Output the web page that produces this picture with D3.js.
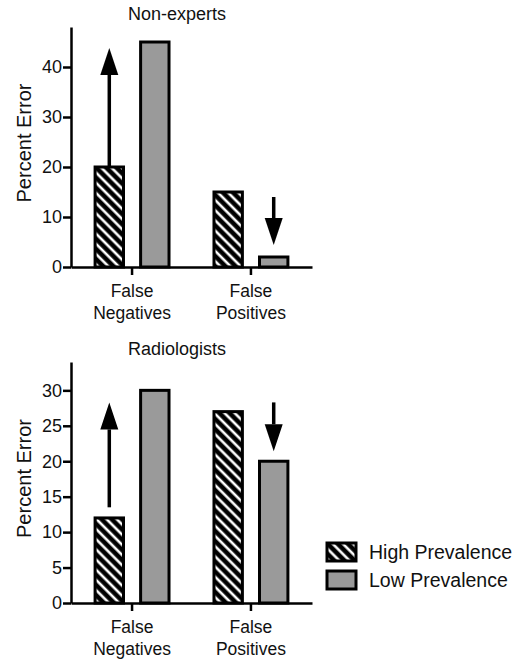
<!DOCTYPE html>
<html>
<head>
<meta charset="utf-8">
<script src="https://cdn.jsdelivr.net/npm/d3@7"></script>
<style>
  body { margin: 0; background: #fff; }
  svg { display: block; font-family: "Liberation Sans", Arial, sans-serif; }
</style>
</head>
<body>
<svg id="chart"></svg>
<script>
// categories and series
const categories = ['False Negatives', 'False Positives'];
const categoryLines = [['False', 'Negatives'], ['False', 'Positives']];
const series = ['High Prevalence', 'Low Prevalence'];

// Non-experts panel
const nonExpertsHigh = [20, 15];
const nonExpertsLow = [45, 2];
const nonExpertsTicks = [0, 10, 20, 30, 40];
const nonExpertsMax = 48;
// arrows: [series index, category index, from value, to value]
const nonExpertsArrows = [[0, 0, 20, 43.8], [1, 1, 14, 4.4]];

// Radiologists panel
const radiologistsHigh = [12, 27];
const radiologistsLow = [30, 20];
const radiologistsTicks = [0, 5, 10, 15, 20, 25, 30];
const radiologistsMax = 34;
const radiologistsArrows = [[0, 0, 13.5, 28.3], [1, 1, 28.3, 21.4]];

(() => {
  const svgWidth = 519;
  const svgHeight = 659;

  const svg = d3.select('#chart')
    .attr('width', svgWidth)
    .attr('height', svgHeight);

  const defs = svg.append('defs');
  const pattern = defs.append('pattern')
    .attr('id', 'hatch')
    .attr('patternUnits', 'userSpaceOnUse')
    .attr('width', 7.2)
    .attr('height', 7.2)
    .attr('patternTransform', 'rotate(-45)');
  pattern.append('rect')
    .attr('width', 7.2).attr('height', 7.2).attr('fill', '#000');
  pattern.append('rect')
    .attr('x', 2.2).attr('width', 2.6).attr('height', 7.2).attr('fill', '#fff');

  const fills = ['url(#hatch)', '#9a9a9a'];

  const xScale = d3.scaleBand()
    .domain(categories)
    .range([71, 312])
    .paddingInner(0.353)
    .paddingOuter(0.19);

  const xInner = d3.scaleBand()
    .domain(series)
    .range([0, xScale.bandwidth()])
    .paddingInner(0.31);

  function drawPanel(title, high, low, ticks, maxValue, arrows, top, bottom) {
    const g = svg.append('g');

    const yScale = d3.scaleLinear()
      .domain([0, maxValue])
      .range([bottom, top]);

    const rows = categories.map((c, i) => [
      { cat: c, ser: series[0], value: high[i] },
      { cat: c, ser: series[1], value: low[i] }
    ]).flat();

    g.selectAll('rect.bar')
      .data(rows)
      .enter()
      .append('rect')
      .attr('class', 'bar')
      .attr('x', d => xScale(d.cat) + xInner(d.ser) + 1.5)
      .attr('y', d => yScale(d.value))
      .attr('width', xInner.bandwidth() - 3)
      .attr('height', d => yScale(0) - yScale(d.value))
      .attr('fill', d => fills[series.indexOf(d.ser)])
      .attr('stroke', '#000')
      .attr('stroke-width', 3);

    // y axis
    const yAxis = g.append('g')
      .attr('transform', 'translate(71, 0)')
      .call(d3.axisLeft(yScale).tickValues(ticks).tickSize(8).tickSizeOuter(0).tickPadding(1));
    yAxis.selectAll('text').attr('font-size', 18).attr('fill', '#111');

    // x axis
    const xAxis = g.append('g')
      .attr('transform', `translate(0, ${bottom})`)
      .call(d3.axisBottom(xScale).tickSize(8).tickSizeOuter(0).tickPadding(10));
    xAxis.selectAll('.tick text')
      .text(null)
      .attr('font-size', 17.5)
      .attr('fill', '#111')
      .each(function(d) {
        const lines = categoryLines[categories.indexOf(d)];
        const t = d3.select(this);
        lines.forEach((line, i) => {
          t.append('tspan').attr('x', 0).attr('dy', i === 0 ? '0.71em' : 22).text(line);
        });
      });

    [yAxis, xAxis].forEach(a => {
      a.selectAll('path, line').attr('stroke', '#000').attr('stroke-width', 2.5);
    });

    // title
    g.append('text')
      .attr('x', 177)
      .attr('y', top - 7)
      .attr('text-anchor', 'middle')
      .attr('font-size', 18)
      .attr('fill', '#111')
      .text(title);

    g.append('text')
      .attr('transform', `translate(31, ${(top + bottom) / 2 - 4}) rotate(-90)`)
      .attr('text-anchor', 'middle')
      .attr('font-size', 20)
      .attr('fill', '#111')
      .text('Percent Error');

    // arrows
    const headLen = 27;
    const headHalf = 9;
    arrows.forEach(([s, c, from, to]) => {
      const x = xScale(categories[c]) + xInner(series[s]) + xInner.bandwidth() / 2;
      const y0 = yScale(from);
      const y1 = yScale(to);
      const dir = y1 < y0 ? 1 : -1;
      const base = y1 + dir * headLen;
      g.append('line')
        .attr('x1', x).attr('x2', x)
        .attr('y1', y0).attr('y2', base)
        .attr('stroke', '#000')
        .attr('stroke-width', 3.5);
      g.append('path')
        .attr('d', `M${x},${y1}L${x - headHalf},${base}L${x + headHalf},${base}Z`)
        .attr('fill', '#000');
    });
  }

  drawPanel('Non-experts', nonExpertsHigh, nonExpertsLow, nonExpertsTicks, nonExpertsMax, nonExpertsArrows, 27, 267);
  drawPanel('Radiologists', radiologistsHigh, radiologistsLow, radiologistsTicks, radiologistsMax, radiologistsArrows, 362, 603);

  // legend
  const legend = svg.append('g').attr('transform', 'translate(327, 543)');
  legend.selectAll('rect')
    .data(series)
    .enter()
    .append('rect')
    .attr('x', 0)
    .attr('y', (d, i) => i * 28)
    .attr('width', 29)
    .attr('height', 18)
    .attr('fill', (d, i) => fills[i])
    .attr('stroke', '#000')
    .attr('stroke-width', 3);
  legend.selectAll('text')
    .data(series)
    .enter()
    .append('text')
    .attr('x', 42)
    .attr('y', (d, i) => i * 28 + 9)
    .attr('dy', '0.35em')
    .attr('font-size', 19.5)
    .attr('fill', '#111')
    .text(d => d);
})();
</script>
</body>
</html>
